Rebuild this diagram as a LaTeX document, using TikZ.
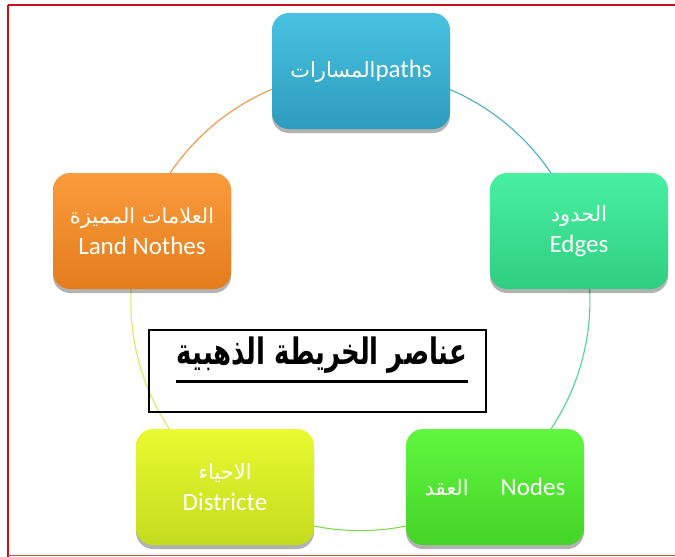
\documentclass[tikz,border=0pt]{standalone}
\usepackage{fontspec}
\setmainfont{Carlito}
\newfontfamily\arabicfont[Script=Arabic]{DejaVu Sans}
\TeXXeTstate=1
\usetikzlibrary{shadows,backgrounds}
\definecolor{frameRed}{HTML}{C8101A}
\definecolor{frameRedL}{HTML}{E04848}
\definecolor{pathsT}{HTML}{48C2E0}\definecolor{pathsB}{HTML}{2E9CBE}
\definecolor{edgesT}{HTML}{48F0A2}\definecolor{edgesB}{HTML}{2FCE80}
\definecolor{nodesT}{HTML}{60F63E}\definecolor{nodesB}{HTML}{44D428}
\definecolor{distT}{HTML}{E8FA30}\definecolor{distB}{HTML}{C4DC1E}
\definecolor{landT}{HTML}{FA9C3C}\definecolor{landB}{HTML}{E47C1C}
\definecolor{arcA}{HTML}{4BACC6}
\definecolor{arcB}{HTML}{4ED88A}
\definecolor{arcC}{HTML}{7ADE4A}
\definecolor{arcD}{HTML}{D4EC60}
\definecolor{arcE}{HTML}{F79646}
\tikzset{
  boxnode/.style={rounded corners=17pt, minimum width=178pt, minimum height=116pt,
    text=white, align=center, font=\fontsize{25}{31}\selectfont,
    drop shadow={shadow xshift=0pt, shadow yshift=-4pt, opacity=0.3, fill=black}},
  ring/.style={line width=1.1pt, bend left=36, looseness=0.94}
}
\newcommand{\artxt}[1]{{\arabicfont\fontsize{21}{31}\selectfont\beginR #1\endR}}
\begin{document}
\begin{tikzpicture}[x=1pt,y=-1pt]
\useasboundingbox (0,0) rectangle (675,557);
\node[boxnode, top color=pathsT, bottom color=pathsB] (p) at (361,71)
  {\artxt{المسارات}paths};
\node[boxnode, top color=edgesT, bottom color=edgesB] (e) at (579,231)
  {\artxt{الحدود}\\Edges};
\node[boxnode, top color=nodesT, bottom color=nodesB] (n) at (495,487)
  {\artxt{العقد}\hspace{32pt}Nodes};
\node[boxnode, top color=distT, bottom color=distB] (d) at (225,487)
  {\artxt{الاحياء}\\Districte};
\node[boxnode, top color=landT, bottom color=landB] (l) at (142,231)
  {\artxt{العلامات المميزة}\\Land Nothes};
\begin{scope}[on background layer]
  \fill[white] (0,0) rectangle (675,557);
  \draw[ring, arcA] (p.center) to (e.center);
  \draw[ring, arcB] (e.center) to (n.center);
  \draw[ring, arcC] (n.center) to (d.center);
  \draw[ring, arcD] (d.center) to (l.center);
  \draw[ring, arcE] (l.center) to (p.center);
\end{scope}
\node[draw=black, line width=1.6pt, minimum width=337pt, minimum height=82pt] (tb) at (317.5,371) {};
\node[inner sep=0pt, font=\arabicfont\bfseries\fontsize{26}{30}\selectfont] (tt) at (322,355)
  {\scalebox{1}[1.4]{\beginR عناصر الخريطة الذهبية\endR}};
\draw[line width=3pt] ([yshift=-8pt]tt.south west) -- ([yshift=-8pt]tt.south east);
\draw[frameRed, line width=2.2pt] (8,5) -- (675,5);
\draw[frameRed, line width=1.8pt] (8,5) -- (8,557);
\draw[frameRedL, line width=1.5pt] (8,555.5) -- (675,555.5);
\end{tikzpicture}
\end{document}
